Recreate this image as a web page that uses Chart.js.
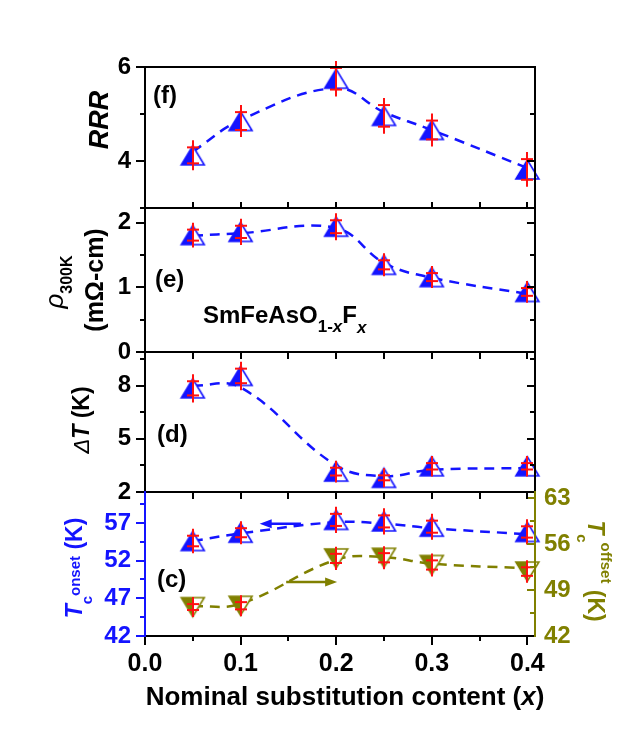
<!DOCTYPE html>
<html>
<head>
<meta charset="utf-8">
<title>SmFeAsO1-xFx</title>
<script src="https://cdn.jsdelivr.net/npm/chart.js@4.4.1/dist/chart.umd.min.js"></script>
<style>
  body { margin: 0; background: #fff; }
  #wrap { position: relative; width: 632px; height: 735px; }
  #wrap canvas { position: absolute; left: 0; top: 0; }
</style>
</head>
<body>
<div id="wrap">
  <canvas id="chartF" width="632" height="735"></canvas>
  <canvas id="chartE" width="632" height="735"></canvas>
  <canvas id="chartD" width="632" height="735"></canvas>
  <canvas id="chartC" width="632" height="735"></canvas>
</div>
<script>
// nominal substitution content x
const xValues = [0.05, 0.1, 0.2, 0.25, 0.3, 0.4];
const xTicks = [0, 0.1, 0.2, 0.3, 0.4];
const xMinor = [0.05, 0.15, 0.25, 0.35];

// (f) RRR
const rrr = [4.12, 4.85, 5.75, 4.96, 4.66, 3.82];
const rrrErr = [0.17, 0.19, 0.23, 0.23, 0.2, 0.22];
const rrrGuide = [4.2, 4.87, 5.55, 5.04, 4.66, 3.85];
const rrrTicks = [4, 6];
const rrrMinor = [3, 5];

// (e) rho 300K (mOhm-cm)
const rho = [1.81, 1.86, 1.94, 1.35, 1.16, 0.93];
const rhoErr = [0.085, 0.095, 0.1, 0.07, 0.062, 0.06];
const rhoGuide = [1.8, 1.84, 1.92, 1.38, 1.15, 0.9];
const rhoTicks = [0, 1, 2];
const rhoMinor = [0.5, 1.5];

// (d) transition width dT (K)
const dT = [7.85, 8.55, 3.15, 2.8, 3.45, 3.45];
const dTErr = [0.4, 0.41, 0.22, 0.14, 0.18, 0.18];
const dTGuide = [8.0, 7.9, 3.5, 2.9, 3.25, 3.35];
const dTTicks = [2, 5, 8];
const dTMinor = [3.5, 6.5, 9.5];

// (c) Tc onset / offset (K)
const tcOnset = [54.6, 55.7, 57.4, 57.2, 56.5, 55.8];
const tcOnsetErr = [0.7, 0.6, 0.8, 0.8, 0.8, 0.75];
const tcOnsetGuide = [54.6, 55.6, 57.1, 56.9, 56.3, 55.5];
const tcOffset = [46.4, 46.6, 53.8, 53.9, 52.8, 51.8];
const tcOffsetErr = [0.45, 0.55, 0.7, 0.7, 0.7, 0.65];
const tcOffsetGuide = [46.5, 46.9, 53.6, 54.0, 53.0, 52.3];
const onsetTicks = [42, 47, 52, 57];
const onsetMinor = [44.5, 49.5, 54.5, 59.5];
const offsetTicks = [42, 49, 56, 63];
const offsetMinor = [45.5, 52.5, 59.5];

const W = 632, H = 735;
const BLUE = '#1414ff', OLIVE = '#808000', RED = '#ff1010';
const FONT = '"Liberation Sans", Arial, sans-serif';
const f = (size, style) => (style || 'bold') + ' ' + size + 'px ' + FONT;
const UP = -Math.PI / 2, DOWN = Math.PI / 2;

function seg(ctx, x1, y1, x2, y2) {
  ctx.beginPath();
  ctx.moveTo(x1, y1);
  ctx.lineTo(x2, y2);
  ctx.stroke();
}

// text made of runs with their own font and baseline shift
function richText(ctx, x, y, angle, runs, color, align) {
  ctx.save();
  ctx.translate(x, y);
  ctx.rotate(angle);
  ctx.fillStyle = color;
  ctx.textBaseline = 'alphabetic';
  ctx.textAlign = 'left';
  const widths = runs.map(r => { ctx.font = r.font; return ctx.measureText(r.t).width; });
  const total = widths.reduce((a, b) => a + b, 0);
  let cx = align === 'center' ? -total / 2 : 0;
  runs.forEach((r, i) => {
    ctx.font = r.font;
    ctx.fillText(r.t, cx, r.dy || 0);
    cx += widths[i];
  });
  ctx.restore();
}

// half filled triangle marker
function triangle(color, down) {
  const w = 23, h = 19;
  const c = document.createElement('canvas');
  c.width = w + 4; c.height = h + 4;
  const g = c.getContext('2d');
  const cx = c.width / 2, ap = down ? 2 + h : 2, base = down ? 2 : 2 + h;
  const outline = () => {
    g.beginPath(); g.moveTo(cx, ap); g.lineTo(cx - w / 2, base); g.lineTo(cx + w / 2, base); g.closePath();
  };
  outline(); g.fillStyle = '#fff'; g.fill();
  g.beginPath(); g.moveTo(cx, ap); g.lineTo(cx - w / 2, base); g.lineTo(cx, base); g.closePath();
  g.fillStyle = color; g.fill();
  outline(); g.lineWidth = 1.6; g.strokeStyle = color; g.stroke();
  return c;
}
const upBlue = triangle(BLUE, false);
const downOlive = triangle(OLIVE, true);

function panelPlugin(cfg) {
  return {
    id: 'panel' + cfg.name,
    afterDatasetsDraw(chart) {
      const ctx = chart.ctx, xs = chart.scales.x;
      ctx.save();
      ctx.strokeStyle = RED;
      ctx.lineWidth = 2;
      chart.data.datasets.forEach(ds => {
        if (!ds.err) return;
        const ys = chart.scales[ds.yAxisID];
        ds.data.forEach((pt, j) => {
          const px = Math.round(xs.getPixelForValue(pt.x));
          const hi = ys.getPixelForValue(pt.y + ds.err[j]);
          const lo = ys.getPixelForValue(pt.y - ds.err[j]);
          seg(ctx, px, hi - 7, px, lo + 7);
          seg(ctx, px - 6, hi, px + 6, hi);
          seg(ctx, px - 6, lo, px + 6, lo);
        });
      });
      ctx.restore();
    },
    afterDraw(chart) {
      const ctx = chart.ctx, a = chart.chartArea, xs = chart.scales.x;
      ctx.save();
      ctx.lineCap = 'square';

      (cfg.arrows || []).forEach(ar => {
        const ys = chart.scales[ar.axis];
        const x1 = xs.getPixelForValue(ar.from), x2 = xs.getPixelForValue(ar.to);
        const py = ys.getPixelForValue(ar.y);
        const dir = Math.sign(x2 - x1);
        ctx.strokeStyle = ar.color; ctx.fillStyle = ar.color; ctx.lineWidth = 2.5;
        seg(ctx, x1, py, x2 - dir * 8, py);
        ctx.beginPath();
        ctx.moveTo(x2, py); ctx.lineTo(x2 - dir * 12, py - 4.5); ctx.lineTo(x2 - dir * 12, py + 4.5);
        ctx.closePath(); ctx.fill();
      });

      ctx.lineWidth = 2;
      ctx.lineCap = 'butt';
      const yTicks = (scale, list, x0, len, color) => {
        ctx.strokeStyle = color;
        list.forEach(v => { const py = Math.round(scale.getPixelForValue(v)); seg(ctx, x0, py, x0 + len, py); });
      };
      const L = cfg.left, ly = chart.scales.y;
      yTicks(ly, L.ticks, a.left, -9, L.color);
      yTicks(ly, L.minor, a.left, -5, L.color);
      if (cfg.right) {
        const ry = chart.scales.y2;
        yTicks(ry, cfg.right.ticks, a.right, -8, cfg.right.color);
        yTicks(ry, cfg.right.minor, a.right, -5, cfg.right.color);
      } else {
        yTicks(ly, L.ticks, a.right, -8, '#000');
        yTicks(ly, L.minor, a.right, -5, '#000');
      }
      const xt = (list, y0, len) => {
        ctx.strokeStyle = '#000';
        list.forEach(v => { const px = Math.round(xs.getPixelForValue(v)); seg(ctx, px, y0, px, y0 + len); });
      };
      if (cfg.edge === 'bottom') { xt(xTicks, a.bottom, -6); xt(xMinor, a.bottom, -6); }
      if (cfg.edge === 'top') { xt(xTicks, a.top, 7); xt(xMinor, a.top, 7); }
      if (cfg.axisX) { xt(xTicks, a.bottom, 9); xt(xMinor, a.bottom, 5); }

      ctx.lineCap = 'square';
      ctx.strokeStyle = '#000';
      seg(ctx, a.left, a.top, a.right, a.top);
      seg(ctx, a.left, a.bottom, a.right, a.bottom);
      ctx.strokeStyle = L.color;
      seg(ctx, a.left, a.top, a.left, a.bottom);
      ctx.strokeStyle = cfg.right ? cfg.right.color : '#000';
      seg(ctx, a.right, a.top, a.right, a.bottom);

      cfg.texts.forEach(t => richText(ctx, t.x, t.y, t.angle || 0, t.runs, t.color || '#000', t.align));
      ctx.restore();
    }
  };
}

function yScale(ax, pos) {
  return {
    type: 'linear',
    position: pos,
    min: ax.min,
    max: ax.max,
    afterBuildTicks: s => { s.ticks = ax.ticks.map(v => ({ value: v })); },
    afterFit: s => { s.width = pos === 'left' ? 145 : W - 535; },
    grid: { display: false, drawTicks: false },
    border: { display: false },
    ticks: {
      color: ax.color,
      font: { family: FONT, size: 24, weight: 'bold' },
      padding: pos === 'left' ? 14 : 9,
      callback: v => String(v)
    }
  };
}

function buildChart(id, cfg) {
  const datasets = [];
  cfg.series.forEach(s => datasets.push({
    data: xValues.map((x, i) => ({ x: x, y: s.values[i] })),
    yAxisID: s.axis,
    err: s.err,
    showLine: false,
    pointStyle: s.marker,
    pointRadius: 12,
    clip: false
  }));
  cfg.series.forEach(s => datasets.push({
    data: xValues.map((x, i) => ({ x: x, y: s.guide[i] })),
    yAxisID: s.axis,
    borderColor: s.color,
    borderWidth: 2.5,
    borderDash: [10, 7],
    pointRadius: 0,
    tension: 0.4,
    fill: false
  }));

  const xScale = {
    type: 'linear',
    min: 0,
    max: 0.408,
    display: !!cfg.axisX,
    afterBuildTicks: s => { s.ticks = xTicks.map(v => ({ value: v })); },
    grid: { display: false, drawTicks: false },
    border: { display: false },
    ticks: {
      color: '#000',
      font: { family: FONT, size: 25, weight: 'bold' },
      padding: 13,
      maxRotation: 0,
      callback: v => v.toFixed(1)
    }
  };
  if (cfg.axisX) xScale.afterFit = s => { s.height = H - cfg.bottom; };

  const scales = { x: xScale, y: yScale(cfg.left, 'left') };
  if (cfg.right) scales.y2 = yScale(cfg.right, 'right');

  return new Chart(document.getElementById(id), {
    type: 'line',
    data: { datasets: datasets },
    options: {
      responsive: false,
      animation: false,
      devicePixelRatio: 1,
      events: [],
      layout: {
        padding: {
          top: cfg.top,
          bottom: cfg.axisX ? 0 : H - cfg.bottom,
          left: 0,
          right: cfg.right ? 0 : W - 535
        }
      },
      scales: scales,
      plugins: { legend: { display: false }, tooltip: { enabled: false } }
    },
    plugins: [panelPlugin(cfg)]
  });
}

buildChart('chartF', {
  name: 'F', top: 67, bottom: 208, edge: 'bottom',
  left: { min: 3, max: 6, ticks: rrrTicks, minor: rrrMinor, color: '#000' },
  series: [{ values: rrr, err: rrrErr, guide: rrrGuide, axis: 'y', marker: upBlue, color: BLUE }],
  texts: [
    { x: 108, y: 120, angle: UP, align: 'center', runs: [{ t: 'RRR', font: f(27, 'italic bold') }] },
    { x: 153, y: 103, runs: [{ t: '(f)', font: f(24) }] }
  ]
});

buildChart('chartE', {
  name: 'E', top: 208, bottom: 352,
  left: { min: 0, max: 2.23, ticks: rhoTicks, minor: rhoMinor, color: '#000' },
  series: [{ values: rho, err: rhoErr, guide: rhoGuide, axis: 'y', marker: upBlue, color: BLUE }],
  texts: [
    { x: 63, y: 282, angle: UP, align: 'center', runs: [{ t: 'ρ', font: f(26, 'italic') }, { t: '300K', font: f(16), dy: 9 }] },
    { x: 103, y: 280, angle: UP, align: 'center', runs: [{ t: '(mΩ-cm)', font: f(25) }] },
    { x: 155, y: 287, runs: [{ t: '(e)', font: f(24) }] },
    { x: 203, y: 323, runs: [
      { t: 'SmFeAsO', font: f(24) },
      { t: '1-', font: f(17), dy: 9 },
      { t: 'x', font: f(17, 'italic bold'), dy: 9 },
      { t: 'F', font: f(24) },
      { t: 'x', font: f(17, 'italic bold'), dy: 10 }
    ] }
  ]
});

buildChart('chartD', {
  name: 'D', top: 352, bottom: 492, edge: 'top',
  left: { min: 2, max: 9.9, ticks: dTTicks, minor: dTMinor, color: '#000' },
  series: [{ values: dT, err: dTErr, guide: dTGuide, axis: 'y', marker: upBlue, color: BLUE }],
  texts: [
    { x: 89, y: 420, angle: UP, align: 'center', runs: [
      { t: 'Δ', font: f(22, 'italic') },
      { t: 'T', font: f(23, 'italic bold') },
      { t: ' (K)', font: f(23) }
    ] },
    { x: 157, y: 442, runs: [{ t: '(d)', font: f(24) }] }
  ]
});

buildChart('chartC', {
  name: 'C', top: 492, bottom: 636, edge: 'top', axisX: true,
  left: { min: 42, max: 61.1, ticks: onsetTicks, minor: onsetMinor, color: BLUE },
  right: { min: 42, max: 63.9, ticks: offsetTicks, minor: offsetMinor, color: OLIVE },
  series: [
    { values: tcOnset, err: tcOnsetErr, guide: tcOnsetGuide, axis: 'y', marker: upBlue, color: BLUE },
    { values: tcOffset, err: tcOffsetErr, guide: tcOffsetGuide, axis: 'y2', marker: downOlive, color: OLIVE }
  ],
  arrows: [
    { from: 0.162, to: 0.12, y: 56.9, axis: 'y', color: BLUE },
    { from: 0.149, to: 0.201, y: 50.2, axis: 'y2', color: OLIVE }
  ],
  texts: [
    { x: 82, y: 568, angle: UP, align: 'center', color: BLUE, runs: [
      { t: 'T', font: f(23, 'italic bold') },
      { t: 'c', font: f(15), dy: 10 },
      { t: 'onset', font: f(15), dy: -2 },
      { t: ' (K)', font: f(23) }
    ] },
    { x: 588, y: 571, angle: DOWN, align: 'center', color: OLIVE, runs: [
      { t: 'T', font: f(23, 'italic bold') },
      { t: 'c', font: f(15), dy: 11 },
      { t: 'offset', font: f(15), dy: -13 },
      { t: ' (K)', font: f(23) }
    ] },
    { x: 157, y: 587, runs: [{ t: '(c)', font: f(24) }] },
    { x: 345, y: 705, align: 'center', runs: [
      { t: 'Nominal substitution content (', font: f(26) },
      { t: 'x', font: f(26, 'italic bold') },
      { t: ')', font: f(26) }
    ] }
  ]
});
</script>
</body>
</html>
